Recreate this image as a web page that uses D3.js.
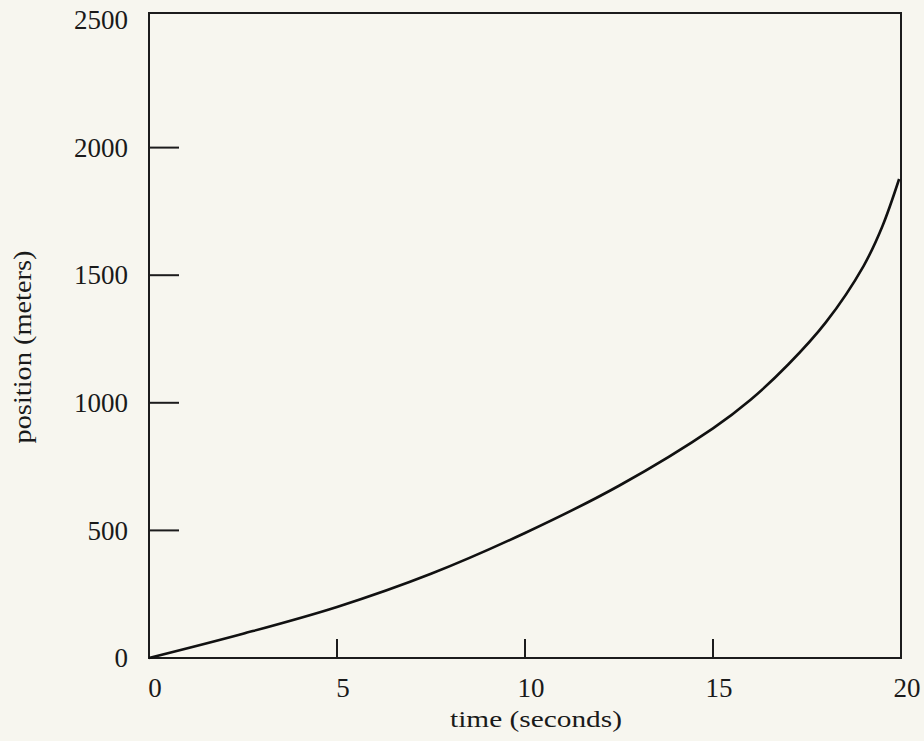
<!DOCTYPE html>
<meta charset="utf-8">
<style>

    body {
        margin: 0;
        background: #f7f6ef;
    }

    .frame {
        fill: none;
        stroke: #1c1c1c;
        stroke-width: 2px;
    }

    .tick {
        stroke: #1c1c1c;
        stroke-width: 2px;
    }

    .curve {
        fill: none;
        stroke: #111;
        stroke-width: 2.6px;
    }

    text {
        font-family: "Liberation Serif", "Times New Roman", Times, serif;
        fill: #1a1a1a;
    }

</style>
<body>
<script src="https://d3js.org/d3.v7.min.js"></script>
<script>

    var width = 924,
            height = 741;

    // position (m) at these times (s)
    var times = [0, 2.5, 5, 7.5, 10, 12.5, 15, 16, 17, 18, 19, 19.5, 19.95];
    var positions = [0, 95, 200, 330, 490, 675, 900, 1012, 1150, 1315, 1535, 1690, 1877];

    var xTicks = [0, 5, 10, 15, 20],
            yTicks = [0, 500, 1000, 1500, 2000, 2500];

    var x = d3.scaleLinear().domain([0, 20]).range([149, 901]),
            y = d3.scaleLinear().domain([0, 2500]).range([658, 20]);

    var svg = d3.select("body").append("svg")
            .attr("width", width)
            .attr("height", height);

    svg.append("rect")
            .attr("width", width)
            .attr("height", height)
            .attr("fill", "#f7f6ef");

    // box round the plot, top edge sits a little above 2500
    svg.append("rect")
            .attr("class", "frame")
            .attr("x", x(0))
            .attr("y", y(2500) - 7)
            .attr("width", x(20) - x(0))
            .attr("height", y(0) - y(2500) + 7);

    // inside ticks, only between the ends
    svg.selectAll("line.xt")
            .data(xTicks.slice(1, -1))
            .enter().append("line")
            .attr("class", "tick")
            .attr("x1", function(d) { return x(d); })
            .attr("x2", function(d) { return x(d); })
            .attr("y1", y(0))
            .attr("y2", y(0) - 19);

    svg.selectAll("line.yt")
            .data(yTicks.slice(1, -1))
            .enter().append("line")
            .attr("class", "tick")
            .attr("x1", x(0))
            .attr("x2", x(0) + 30)
            .attr("y1", function(d) { return y(d); })
            .attr("y2", function(d) { return y(d); });

    svg.selectAll("text.xl")
            .data(xTicks)
            .enter().append("text")
            .attr("font-family", "Liberation Serif")
            .attr("x", function(d) { return x(d) + 6; })
            .attr("y", 697)
            .attr("text-anchor", "middle")
            .style("font-size", "27px")
            .text(function(d) { return d; });

    svg.selectAll("text.yl")
            .data(yTicks)
            .enter().append("text")
            .attr("font-family", "Liberation Serif")
            .attr("x", 128)
            .attr("y", function(d) { return y(d); })
            .attr("dy", "0.34em")
            .attr("text-anchor", "end")
            .style("font-size", "27px")
            .text(function(d) { return d; });

    svg.append("text")
            .attr("font-family", "Liberation Serif")
            .attr("x", 536)
            .attr("y", 727)
            .attr("text-anchor", "middle")
            .attr("textLength", 172)
            .attr("lengthAdjust", "spacingAndGlyphs")
            .style("font-size", "24px")
            .text("time (seconds)");

    svg.append("text")
            .attr("font-family", "Liberation Serif")
            .attr("transform", "translate(31,347)rotate(-90)")
            .attr("text-anchor", "middle")
            .attr("textLength", 193)
            .attr("lengthAdjust", "spacingAndGlyphs")
            .style("font-size", "25px")
            .text("position (meters)");

    var line = d3.line()
            .x(function(d, i) { return x(times[i]); })
            .y(function(d) { return y(d); })
            .curve(d3.curveCatmullRom.alpha(0.5));

    svg.append("path")
            .attr("class", "curve")
            .attr("d", line(positions));

</script>
</body>
</html>
